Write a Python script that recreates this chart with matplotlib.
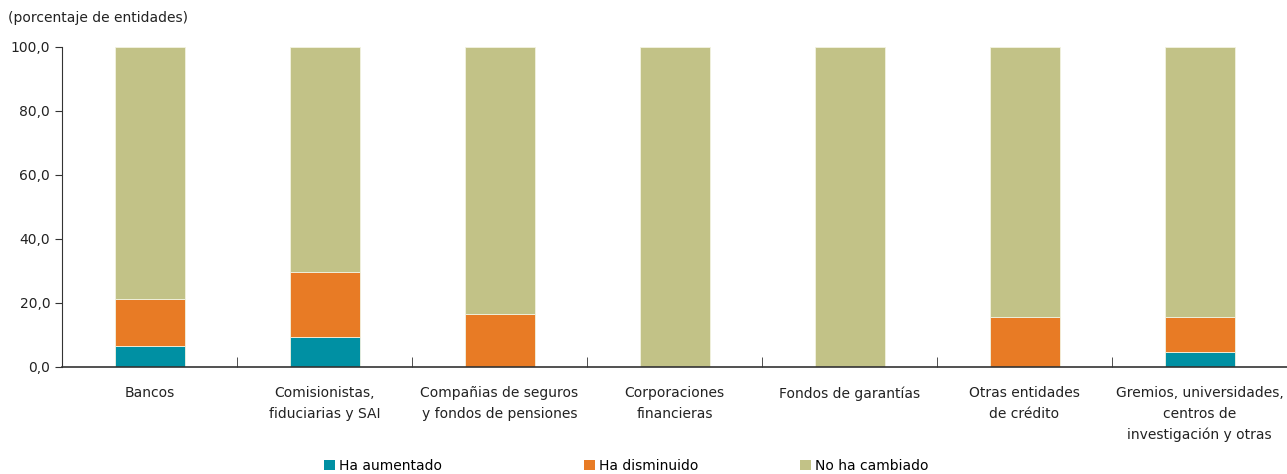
import matplotlib
matplotlib.use("Agg")
import matplotlib.pyplot as plt
import numpy as np
from matplotlib.patches import Patch
from matplotlib.ticker import FuncFormatter

plt.rcParams['font.family'] = ['Liberation Sans Narrow', 'DejaVu Sans Condensed', 'DejaVu Sans']

categories = ["Bancos", "Comisionistas,\nfiduciarias y SAI", "Compañias de seguros\ny fondos de pensiones",
              "Corporaciones\nfinancieras", "Fondos de garantías", "Otras entidades\nde crédito",
              "Gremios, universidades,\ncentros de\ninvestigación y otras"]
aumentado = [6.7, 9.5, 0.0, 0.0, 0.0, 0.0, 4.8]
disminuido = [14.6, 20.2, 16.5, 0.0, 0.0, 15.7, 10.9]
no_cambiado = [100 - a - d for a, d in zip(aumentado, disminuido)]
series_names = ["Ha aumentado", "Ha disminuido", "No ha cambiado"]
colors = ["#0090A3", "#E87B25", "#C2C287"]

FS = 10

fig = plt.figure(figsize=(12.87, 4.74), dpi=100)
ax = fig.add_axes([62/1287, 1 - 367/474, 1 - 62/1287, 320/474])

x = np.arange(len(categories))
w = 0.40
bottom = np.zeros(len(categories))
for vals, c in zip([aumentado, disminuido, no_cambiado], colors):
    ax.bar(x, vals, w, bottom=bottom, color=c, edgecolor="#f2f2e0", linewidth=0.6)
    bottom += np.array(vals)

ax.set_xlim(-0.5, len(categories) - 0.5)
ax.set_ylim(0, 100)
ax.set_yticks([0, 20, 40, 60, 80, 100])
ax.yaxis.set_major_formatter(FuncFormatter(lambda v, p: f"{v:.1f}".replace(".", ",")))
ax.set_xticks(x)
ax.set_xticklabels(categories, fontsize=FS, color="#222222", linespacing=1.6)
ax.set_xticks(np.arange(len(categories) - 1) + 0.5, minor=True)
ax.tick_params(axis="x", which="major", length=0, pad=14)
ax.tick_params(axis="x", which="minor", length=7, direction="in", color="#333333")
ax.tick_params(axis="y", length=5, direction="out", labelsize=FS, color="#333333", labelcolor="#222222")
for s in ["top", "right"]:
    ax.spines[s].set_visible(False)
ax.spines["left"].set_color("#333333")
ax.spines["bottom"].set_color("#333333")
ax.spines["bottom"].set_linewidth(1.2)

fig.text(8/1287, 1 - 18/474, "(porcentaje de entidades)", fontsize=FS, va="center", ha="left", color="#222222")

legend_x = [324, 584, 800]
for name, c, lx in zip(series_names, colors, legend_x):
    fig.legend([Patch(facecolor=c, edgecolor="none")], [name], loc="center left",
               bbox_to_anchor=(lx/1287, 1 - 466/474), frameon=False, fontsize=FS,
               handlelength=0.8, handleheight=0.8, handletextpad=0.3,
               borderpad=0, borderaxespad=0)

fig.savefig("out.png", dpi=100)
